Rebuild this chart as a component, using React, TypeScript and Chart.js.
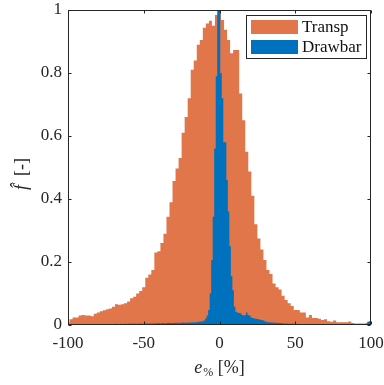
import React, { useEffect, useRef } from "react";
import { Chart, registerables } from "chart.js";

Chart.register(...registerables);

// ---- data ----
const TRANSP_LABEL = "Transp";
const DRAWBAR_LABEL = "Drawbar";

// Transp histogram: bins of width 2, first bin edge -101 (centres -100 ... 100)
const TRANSP_FIRST_EDGE = -101;
const TRANSP_BIN_WIDTH = 2;
const TRANSP_VALUES = [
  0.008, 0.018, 0.024, 0.024, 0.030, 0.032, 0.030, 0.030, 0.028, 0.036,
  0.040, 0.044, 0.047, 0.050, 0.052, 0.058, 0.066, 0.064, 0.066, 0.069,
  0.075, 0.085, 0.090, 0.100, 0.108, 0.120, 0.150, 0.160, 0.175, 0.230,
  0.234, 0.260, 0.290, 0.344, 0.390, 0.457, 0.497, 0.530, 0.610, 0.660,
  0.720, 0.810, 0.840, 0.890, 0.905, 0.944, 0.957, 0.966, 0.950, 0.984,
  1.000,
  0.968, 0.937, 0.905, 0.863, 0.873, 0.873, 0.735, 0.650, 0.550, 0.487,
  0.410, 0.320, 0.275, 0.240, 0.206, 0.175, 0.162, 0.132, 0.120, 0.113,
  0.093, 0.079, 0.069, 0.060, 0.048, 0.048, 0.040, 0.040, 0.024, 0.032,
  0.022, 0.022, 0.020, 0.016, 0.018, 0.012, 0.010, 0.014, 0.009, 0.009,
  0.009, 0.009, 0.011, 0.006, 0.005, 0.005, 0.005, 0.005, 0.004, 0.004,
];

// Drawbar histogram: bins of width 1, first bin edge -100.5 (centres -100 ... 100)
const DRAWBAR_FIRST_EDGE = -100.5;
const DRAWBAR_BIN_WIDTH = 1;
const DRAWBAR_VALUES = [
  0.001, 0.002, 0.002, 0.002, 0.003, 0.002, 0.002, 0.003, 0.002, 0.002,
  0.002, 0.003, 0.002, 0.002, 0.003, 0.002, 0.003, 0.002, 0.003, 0.003,
  0.003, 0.002, 0.003, 0.003, 0.003, 0.002, 0.003, 0.003, 0.003, 0.003,
  0.003, 0.003, 0.004, 0.003, 0.003, 0.004, 0.003, 0.004, 0.004, 0.003,
  0.004, 0.005, 0.004, 0.004, 0.005, 0.004, 0.004, 0.004, 0.005, 0.004,
  0.004, 0.005, 0.005, 0.004, 0.005, 0.005, 0.005, 0.005, 0.006, 0.005,
  0.006, 0.005, 0.006, 0.006, 0.005, 0.006, 0.006, 0.007, 0.006, 0.006,
  0.006, 0.007, 0.007, 0.006, 0.007, 0.007, 0.008, 0.007, 0.008, 0.007,
  0.008, 0.008, 0.009, 0.008, 0.009, 0.009, 0.010, 0.010, 0.011, 0.012,
  0.014, 0.021, 0.030, 0.048, 0.100, 0.206, 0.344, 0.560, 0.790, 1.000,
  1.000,
  0.800, 0.720, 0.580, 0.580, 0.460, 0.360, 0.250, 0.155, 0.110, 0.058,
  0.042, 0.040, 0.038, 0.037, 0.032, 0.030, 0.032, 0.040, 0.032, 0.030,
  0.024, 0.022, 0.021, 0.020, 0.019, 0.018, 0.017, 0.016, 0.014, 0.012,
  0.010, 0.009, 0.009, 0.008, 0.008, 0.007, 0.007, 0.007, 0.006, 0.006,
  0.006, 0.005, 0.005, 0.005, 0.005, 0.004, 0.004, 0.004, 0.004, 0.004,
  0.003, 0.004, 0.003, 0.003, 0.003, 0.003, 0.003, 0.003, 0.003, 0.002,
  0.002, 0.002, 0.003, 0.002, 0.002, 0.002, 0.002, 0.002, 0.002, 0.002,
  0.002, 0.002, 0.002, 0.002, 0.002, 0.002, 0.002, 0.002, 0.002, 0.002,
  0.002, 0.002, 0.002, 0.002, 0.002, 0.002, 0.002, 0.002, 0.002, 0.002,
  0.002, 0.002, 0.002, 0.002, 0.002, 0.003, 0.005, 0.010, 0.012, 0.012,
];

const X_TICKS = [-100, -50, 0, 50, 100];
const Y_TICKS = [0, 0.2, 0.4, 0.6, 0.8, 1];

// ---- styles ----
const ORANGE = "rgb(224,118,74)";
const BLUE = "rgb(0,114,189)";
const AXIS = "#262626";
const FONT_FAMILY = '"Liberation Serif", "DejaVu Serif", serif';

function histPoints(firstEdge: number, width: number, values: number[]) {
  const pts = values.map((v, i) => ({ x: firstEdge + i * width, y: v }));
  pts.push({ x: firstEdge + values.length * width, y: 0 });
  return pts;
}

const frameAndLabels = {
  id: "frameAndLabels",
  afterDatasetsDraw(chart: any) {
    const { ctx, chartArea, scales } = chart;
    const l = Math.round(chartArea.left) + 0.5;
    const r = Math.round(chartArea.right) - 0.5;
    const t = Math.round(chartArea.top) + 0.5;
    const b = Math.round(chartArea.bottom) - 0.5;
    ctx.save();
    ctx.strokeStyle = AXIS;
    ctx.lineWidth = 1;
    ctx.strokeRect(l, t, r - l, b - t);
    const tl = 3;
    ctx.beginPath();
    for (const v of X_TICKS) {
      const x = Math.round(scales.x.getPixelForValue(v)) + 0.5;
      ctx.moveTo(x, b);
      ctx.lineTo(x, b - tl);
      ctx.moveTo(x, t);
      ctx.lineTo(x, t + tl);
    }
    for (const v of Y_TICKS) {
      const y = Math.round(scales.y.getPixelForValue(v)) + 0.5;
      ctx.moveTo(l, y);
      ctx.lineTo(l + tl, y);
      ctx.moveTo(r, y);
      ctx.lineTo(r - tl, y);
    }
    ctx.stroke();
    ctx.restore();
  },
  afterDraw(chart: any) {
    const { ctx, chartArea } = chart;
    ctx.save();
    ctx.fillStyle = AXIS;
    ctx.textBaseline = "alphabetic";

    // x title: e_% [%]
    const big = `18px ${FONT_FAMILY}`;
    const bigIt = `italic 18px ${FONT_FAMILY}`;
    const small = `12px ${FONT_FAMILY}`;
    const p1 = "e";
    const p2 = "%";
    const p3 = " [%]";
    ctx.font = bigIt;
    const w1 = ctx.measureText(p1).width;
    ctx.font = small;
    const w2 = ctx.measureText(p2).width;
    ctx.font = big;
    const w3 = ctx.measureText(p3).width;
    const total = w1 + w2 + 1 + w3;
    const cx = (chartArea.left + chartArea.right) / 2;
    let x = cx - total / 2;
    const baseY = 373;
    ctx.font = bigIt;
    ctx.fillText(p1, x, baseY);
    x += w1 + 1;
    ctx.font = small;
    ctx.fillText(p2, x, baseY + 3);
    x += w2;
    ctx.font = big;
    ctx.fillText(p3, x, baseY);

    // y title: f-hat [-]
    ctx.translate(27, 174);
    ctx.rotate(-Math.PI / 2);
    const q1 = "f\u0302";
    const q2 = "  [-]";
    ctx.font = bigIt;
    const v1 = ctx.measureText(q1).width;
    ctx.font = big;
    const v2 = ctx.measureText(q2).width;
    const y0 = -(v1 + v2) / 2;
    ctx.font = bigIt;
    ctx.fillText(q1, y0, 0);
    ctx.font = big;
    ctx.fillText(q2, y0 + v1, 0);
    ctx.restore();

    // legend
    ctx.save();
    const font = `17px ${FONT_FAMILY}`;
    ctx.font = font;
    const ds = chart.data.datasets;
    const swW = 47;
    const swH = 14;
    const textW = Math.max(...ds.map((d: any) => ctx.measureText(d.label).width));
    const boxW = Math.round(5 + swW + 4 + textW + 6);
    const boxH = 44;
    const right = Math.round(chartArea.right) - 4;
    const top = Math.round(chartArea.top) + 5;
    const left = right - boxW;
    ctx.fillStyle = "#ffffff";
    ctx.fillRect(left, top, boxW, boxH);
    ctx.strokeStyle = AXIS;
    ctx.lineWidth = 1;
    ctx.strokeRect(left + 0.5, top + 0.5, boxW - 1, boxH - 1);
    ds.forEach((d: any, i: number) => {
      const cy = top + 12 + i * 20;
      ctx.fillStyle = d.backgroundColor;
      ctx.fillRect(left + 5, cy - 7, swW, swH);
      ctx.fillStyle = "#111";
      ctx.textBaseline = "middle";
      ctx.fillText(d.label, left + 5 + swW + 4, cy + 1);
    });
    ctx.restore();
  },
};

export default function App() {
  const ref = useRef<HTMLCanvasElement | null>(null);

  useEffect(() => {
    if (!ref.current) return;
    const chart = new Chart(ref.current, {
      type: "line",
      data: {
        datasets: [
          {
            label: TRANSP_LABEL,
            data: histPoints(TRANSP_FIRST_EDGE, TRANSP_BIN_WIDTH, TRANSP_VALUES),
            stepped: "before",
            fill: "origin",
            backgroundColor: ORANGE,
            borderColor: ORANGE,
            borderWidth: 0,
            pointRadius: 0,
            order: 2,
            clip: 0,
          },
          {
            label: DRAWBAR_LABEL,
            data: histPoints(DRAWBAR_FIRST_EDGE, DRAWBAR_BIN_WIDTH, DRAWBAR_VALUES),
            stepped: "before",
            fill: "origin",
            backgroundColor: BLUE,
            borderColor: BLUE,
            borderWidth: 0,
            pointRadius: 0,
            order: 1,
            clip: 0,
          },
        ],
      } as any,
      options: {
        animation: false,
        responsive: false,
        devicePixelRatio: 1,
        layout: { padding: { top: 10, right: 13, left: 0, bottom: 0 } },
        plugins: { legend: { display: false }, tooltip: { enabled: false } },
        elements: { line: { tension: 0 } },
        scales: {
          x: {
            type: "linear",
            min: -100,
            max: 100,
            afterBuildTicks: (s: any) => {
              s.ticks = X_TICKS.map((v) => ({ value: v }));
            },
            afterFit: (s: any) => {
              s.height = 60;
              s.paddingLeft = 0;
              s.paddingRight = 0;
            },
            grid: { display: false, drawTicks: false },
            border: { display: false },
            ticks: {
              color: AXIS,
              font: { family: FONT_FAMILY, size: 17 },
              padding: 8,
              maxRotation: 0,
              autoSkip: false,
              callback: (v: any) => String(v),
            },
          },
          y: {
            type: "linear",
            min: 0,
            max: 1,
            afterBuildTicks: (s: any) => {
              s.ticks = Y_TICKS.map((v) => ({ value: v }));
            },
            afterFit: (s: any) => {
              s.width = 68;
              s.paddingTop = 0;
              s.paddingBottom = 0;
            },
            grid: { display: false, drawTicks: false },
            border: { display: false },
            ticks: {
              color: AXIS,
              font: { family: FONT_FAMILY, size: 17 },
              padding: 6,
              autoSkip: false,
              callback: (v: any) => String(Math.round(Number(v) * 10) / 10),
            },
          },
        },
      } as any,
      plugins: [frameAndLabels],
    });
    return () => chart.destroy();
  }, []);

  return (
    <div style={{ position: "fixed", left: 0, top: 0, width: 384, height: 385, background: "#fff" }}>
      <canvas ref={ref} width={384} height={385} style={{ display: "block" }} />
    </div>
  );
}
